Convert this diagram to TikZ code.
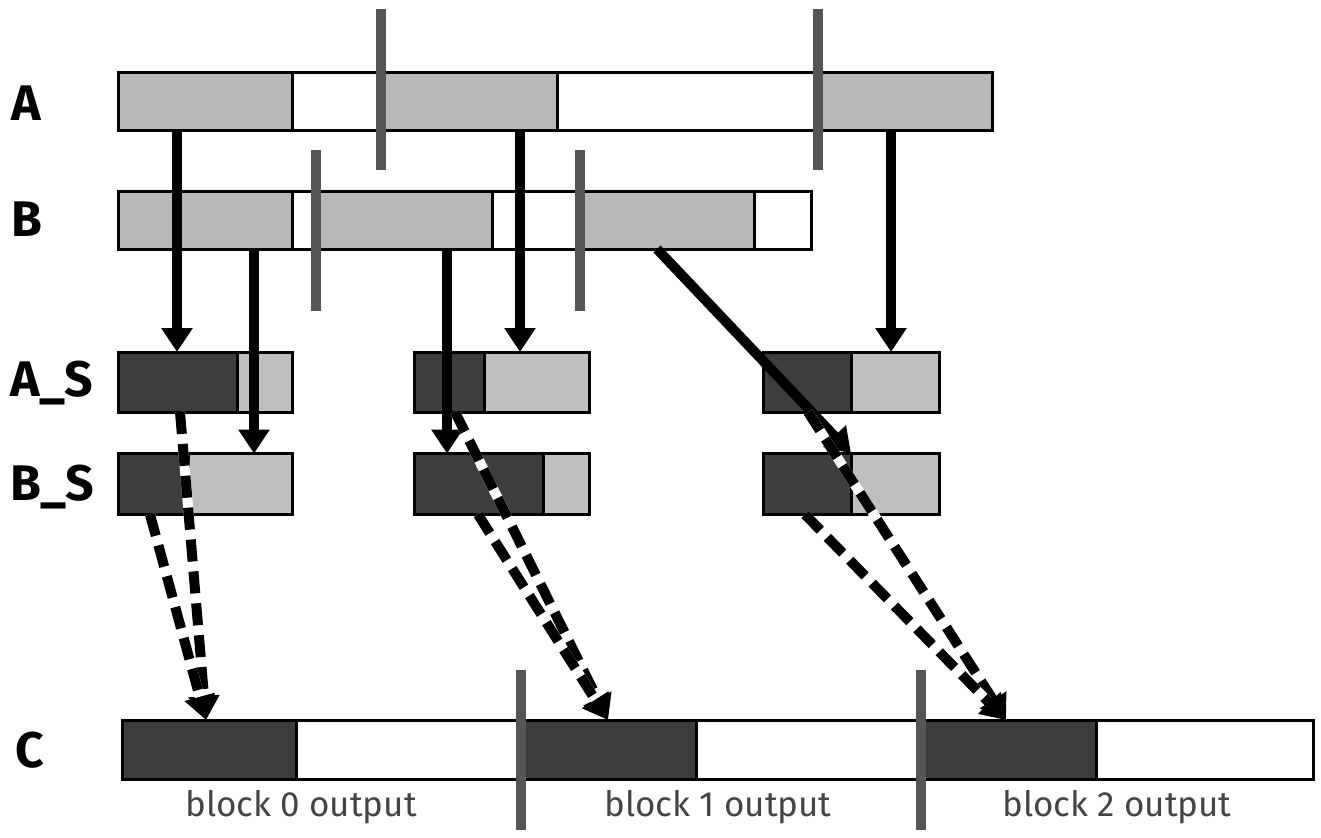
\documentclass[tikz,border=0pt]{standalone}
\usepackage{fontspec}
\setmainfont{Fira Sans}
\usetikzlibrary{arrows.meta}
\definecolor{segG}{HTML}{B8B8B8}
\definecolor{segL}{HTML}{BFBFBF}
\definecolor{segD}{HTML}{3D3D3D}
\definecolor{barC}{HTML}{555555}
\definecolor{txtC}{HTML}{444444}
\newcommand\segnode[6]{\node[segbox, fill=#2, minimum width={#4-#3}, minimum height=#6] (#1) at ({(#3+#4)/2}, #5) {};}
\newcommand\barnode[4]{\node[barbox, minimum height={#4-#3}] (#1) at (#2, {(#3+#4)/2}) {};}
\newcommand\dasharrow[2]{\draw[dashbg] #1 -- #2; \draw[dasharr] #1 -- #2;}
\begin{document}
\begin{tikzpicture}[x=1pt,y=-1pt,
  segbox/.style={draw=black, line width=3pt, rectangle, inner sep=0pt, outer sep=0pt},
  barbox/.style={fill=barC, draw=none, rectangle, inner sep=0pt, outer sep=0pt, minimum width=10pt},
  lbl/.style={font=\fontsize{50}{60}\selectfont\bfseries, inner sep=0pt},
  blocktxt/.style={font=\fontsize{35}{42}\selectfont, text=txtC, inner sep=0pt, anchor=base},
  solidarr/.style={line width=10pt, -{Triangle[length=24pt,width=30pt]}},
  dasharr/.style={line width=10pt, dash pattern=on 22pt off 10pt, -{Triangle[length=24pt,width=30pt]}},
  dashbg/.style={line width=10pt, white, shorten >=22pt}]
\useasboundingbox (0,0) rectangle (1321,837);
\fill[white] (0,0) rectangle (1321,837);
% row A
\segnode{a1}{segG}{118}{292}{102}{58}
\segnode{a2}{white}{292}{381}{102}{58}
\segnode{a3}{segG}{381}{557}{102}{58}
\segnode{a4}{white}{557}{818}{102}{58}
\segnode{a5}{segG}{818}{992}{102}{58}
% row B
\segnode{b1}{segG}{118}{292}{220}{58}
\segnode{b2}{white}{292}{316}{220}{58}
\segnode{b3}{segG}{316}{492}{220}{58}
\segnode{b4}{white}{492}{580}{220}{58}
\segnode{b5}{segG}{580}{754}{220}{58}
\segnode{b6}{white}{754}{811}{220}{58}
% row A_S
\segnode{as1d}{segD}{118}{237}{382}{60}
\segnode{as1l}{segL}{237}{292}{382}{60}
\segnode{as2d}{segD}{414}{484}{382}{60}
\segnode{as2l}{segL}{484}{589}{382}{60}
\segnode{as3d}{segD}{763}{851}{382}{60}
\segnode{as3l}{segL}{851}{939}{382}{60}
% row B_S
\segnode{bs1d}{segD}{118}{188}{484}{61}
\segnode{bs1l}{segL}{188}{292}{484}{61}
\segnode{bs2d}{segD}{414}{543}{484}{61}
\segnode{bs2l}{segL}{543}{589}{484}{61}
\segnode{bs3d}{segD}{763}{851}{484}{61}
\segnode{bs3l}{segL}{851}{939}{484}{61}
% row C
\segnode{c1d}{segD}{122}{296}{749.5}{59}
\segnode{c1w}{white}{296}{521}{749.5}{59}
\segnode{c2d}{segD}{521}{696}{749.5}{59}
\segnode{c2w}{white}{696}{921}{749.5}{59}
\segnode{c3d}{segD}{921}{1096}{749.5}{59}
\segnode{c3w}{white}{1096}{1313}{749.5}{59}
% divider bars
\barnode{barA1}{381}{9}{170}
\barnode{barA2}{818}{9}{170}
\barnode{barB1}{316}{150}{311}
\barnode{barB2}{580}{150}{311}
\barnode{barC1}{521}{670}{830}
\barnode{barC2}{921}{670}{830}
% labels
\node[lbl] (labA) at (26,103) {A};
\node[lbl] (labB) at (27,219) {B};
\node[lbl] (labAS) at (52,383) {A\_S};
\node[lbl] (labBS) at (52,487) {B\_S};
\node[lbl] (labC) at (30,750) {C};
\node[blocktxt] (t0) at (301,816) {block 0 output};
\node[blocktxt] (t1) at (718,816) {block 1 output};
\node[blocktxt] (t2) at (1117,816) {block 2 output};
% solid arrows
\draw[solidarr] ([xshift=59pt]a1.south west) -- ([xshift=59pt]as1d.north west);
\draw[solidarr] ([xshift=136pt]b1.south west) -- ([xshift=66pt]bs1l.north west);
\draw[solidarr] ([xshift=139pt]a3.south west) -- ([xshift=36pt]as2l.north west);
\draw[solidarr] ([xshift=131pt]b3.south west) -- ([xshift=33pt]bs2d.north west);
\draw[solidarr] ([xshift=73pt]a5.south west) -- ([xshift=40pt]as3l.north west);
\draw[solidarr] ([xshift=77pt]b5.south west) -- (bs3l.north west);
% dashed arrows
\dasharrow{([xshift=62pt]as1d.south west)}{([xshift=84pt]c1d.north west)}
\dasharrow{([xshift=32pt]bs1d.south west)}{([xshift=84pt]c1d.north west)}
\dasharrow{([xshift=41pt]as2d.south west)}{([xshift=87pt]c2d.north west)}
\dasharrow{([xshift=64pt]bs2d.south west)}{([xshift=87pt]c2d.north west)}
\dasharrow{([xshift=45pt]as3d.south west)}{([xshift=85pt]c3d.north west)}
\dasharrow{([xshift=42pt]bs3d.south west)}{([xshift=85pt]c3d.north west)}
\end{tikzpicture}
\end{document}
